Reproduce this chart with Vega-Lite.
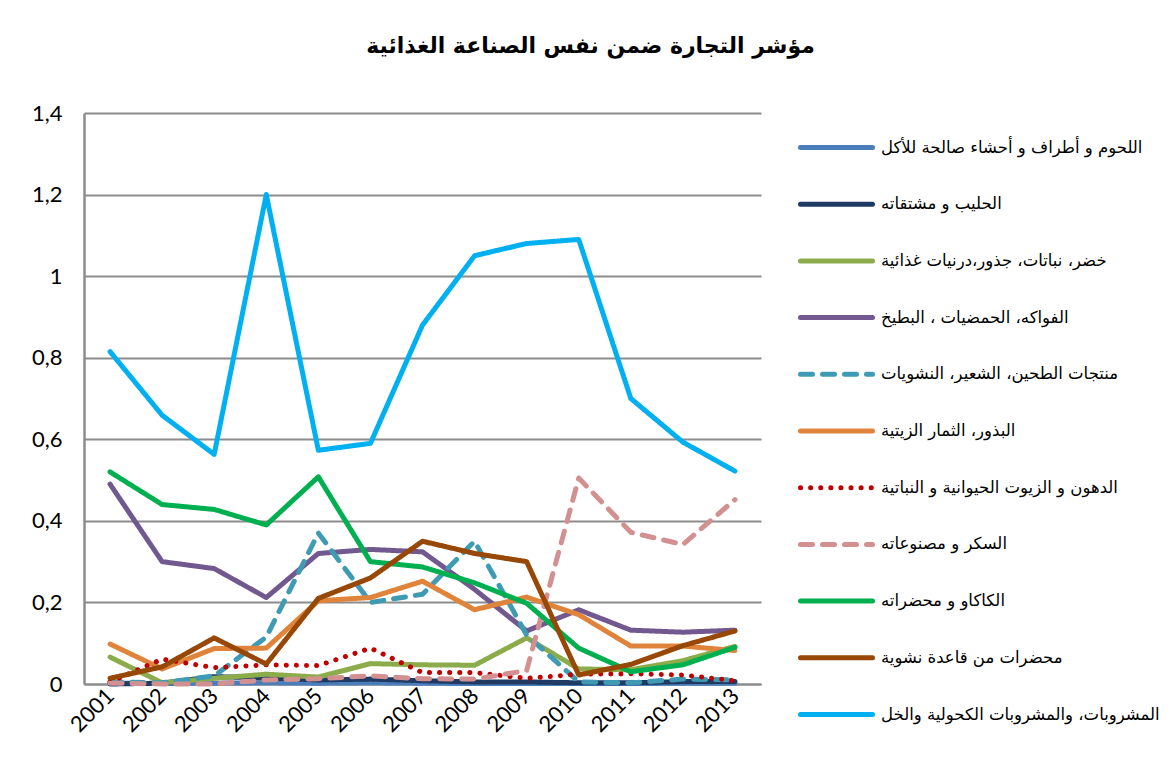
{
  "$schema": "https://vega.github.io/schema/vega-lite/v6.json",
  "autosize": {"type": "none"},
  "width": 677,
  "height": 571,
  "padding": {"left": 84, "top": 113, "right": 415, "bottom": 96},
  "background": "white",
  "config": {
    "view": {"stroke": null},
    "font": "DejaVu Sans"
  },
  "title": {
    "text": "مؤشر التجارة ضمن نفس الصناعة الغذائية",
    "font": "DejaVu Sans",
    "fontSize": 22,
    "fontWeight": "bold",
    "color": "black",
    "anchor": "middle",
    "dx": 168,
    "offset": 44
  },
  "datasets": {
    "rows": [
      {"year": "2001", "cat": "اللحوم و أطراف و أحشاء صالحة للأكل", "value": 0.002},
      {"year": "2002", "cat": "اللحوم و أطراف و أحشاء صالحة للأكل", "value": 0.001},
      {"year": "2003", "cat": "اللحوم و أطراف و أحشاء صالحة للأكل", "value": 0.002},
      {"year": "2004", "cat": "اللحوم و أطراف و أحشاء صالحة للأكل", "value": 0.003},
      {"year": "2005", "cat": "اللحوم و أطراف و أحشاء صالحة للأكل", "value": 0.002},
      {"year": "2006", "cat": "اللحوم و أطراف و أحشاء صالحة للأكل", "value": 0.003},
      {"year": "2007", "cat": "اللحوم و أطراف و أحشاء صالحة للأكل", "value": 0.002},
      {"year": "2008", "cat": "اللحوم و أطراف و أحشاء صالحة للأكل", "value": 0.001},
      {"year": "2009", "cat": "اللحوم و أطراف و أحشاء صالحة للأكل", "value": 0.001},
      {"year": "2010", "cat": "اللحوم و أطراف و أحشاء صالحة للأكل", "value": 0.001},
      {"year": "2011", "cat": "اللحوم و أطراف و أحشاء صالحة للأكل", "value": 0.001},
      {"year": "2012", "cat": "اللحوم و أطراف و أحشاء صالحة للأكل", "value": 0.002},
      {"year": "2013", "cat": "اللحوم و أطراف و أحشاء صالحة للأكل", "value": 0.002},

      {"year": "2001", "cat": "الحليب و مشتقاته", "value": 0.0},
      {"year": "2002", "cat": "الحليب و مشتقاته", "value": 0.002},
      {"year": "2003", "cat": "الحليب و مشتقاته", "value": 0.018},
      {"year": "2004", "cat": "الحليب و مشتقاته", "value": 0.015},
      {"year": "2005", "cat": "الحليب و مشتقاته", "value": 0.01},
      {"year": "2006", "cat": "الحليب و مشتقاته", "value": 0.012},
      {"year": "2007", "cat": "الحليب و مشتقاته", "value": 0.008},
      {"year": "2008", "cat": "الحليب و مشتقاته", "value": 0.005},
      {"year": "2009", "cat": "الحليب و مشتقاته", "value": 0.005},
      {"year": "2010", "cat": "الحليب و مشتقاته", "value": 0.003},
      {"year": "2011", "cat": "الحليب و مشتقاته", "value": 0.003},
      {"year": "2012", "cat": "الحليب و مشتقاته", "value": 0.006},
      {"year": "2013", "cat": "الحليب و مشتقاته", "value": 0.006},

      {"year": "2001", "cat": "خضر، نباتات، جذور،درنيات غذائية", "value": 0.066},
      {"year": "2002", "cat": "خضر، نباتات، جذور،درنيات غذائية", "value": 0.003},
      {"year": "2003", "cat": "خضر، نباتات، جذور،درنيات غذائية", "value": 0.014},
      {"year": "2004", "cat": "خضر، نباتات، جذور،درنيات غذائية", "value": 0.024},
      {"year": "2005", "cat": "خضر، نباتات، جذور،درنيات غذائية", "value": 0.017},
      {"year": "2006", "cat": "خضر، نباتات، جذور،درنيات غذائية", "value": 0.05},
      {"year": "2007", "cat": "خضر، نباتات، جذور،درنيات غذائية", "value": 0.047},
      {"year": "2008", "cat": "خضر، نباتات، جذور،درنيات غذائية", "value": 0.046},
      {"year": "2009", "cat": "خضر، نباتات، جذور،درنيات غذائية", "value": 0.113},
      {"year": "2010", "cat": "خضر، نباتات، جذور،درنيات غذائية", "value": 0.037},
      {"year": "2011", "cat": "خضر، نباتات، جذور،درنيات غذائية", "value": 0.035},
      {"year": "2012", "cat": "خضر، نباتات، جذور،درنيات غذائية", "value": 0.057},
      {"year": "2013", "cat": "خضر، نباتات، جذور،درنيات غذائية", "value": 0.092},

      {"year": "2001", "cat": "الفواكه، الحمضيات ، البطيخ", "value": 0.49},
      {"year": "2002", "cat": "الفواكه، الحمضيات ، البطيخ", "value": 0.30},
      {"year": "2003", "cat": "الفواكه، الحمضيات ، البطيخ", "value": 0.283},
      {"year": "2004", "cat": "الفواكه، الحمضيات ، البطيخ", "value": 0.212},
      {"year": "2005", "cat": "الفواكه، الحمضيات ، البطيخ", "value": 0.32},
      {"year": "2006", "cat": "الفواكه، الحمضيات ، البطيخ", "value": 0.33},
      {"year": "2007", "cat": "الفواكه، الحمضيات ، البطيخ", "value": 0.324},
      {"year": "2008", "cat": "الفواكه، الحمضيات ، البطيخ", "value": 0.232},
      {"year": "2009", "cat": "الفواكه، الحمضيات ، البطيخ", "value": 0.13},
      {"year": "2010", "cat": "الفواكه، الحمضيات ، البطيخ", "value": 0.182},
      {"year": "2011", "cat": "الفواكه، الحمضيات ، البطيخ", "value": 0.132},
      {"year": "2012", "cat": "الفواكه، الحمضيات ، البطيخ", "value": 0.127},
      {"year": "2013", "cat": "الفواكه، الحمضيات ، البطيخ", "value": 0.132},

      {"year": "2001", "cat": "منتجات الطحين، الشعير، النشويات", "value": 0.005},
      {"year": "2002", "cat": "منتجات الطحين، الشعير، النشويات", "value": 0.003},
      {"year": "2003", "cat": "منتجات الطحين، الشعير، النشويات", "value": 0.02},
      {"year": "2004", "cat": "منتجات الطحين، الشعير، النشويات", "value": 0.115},
      {"year": "2005", "cat": "منتجات الطحين، الشعير، النشويات", "value": 0.37},
      {"year": "2006", "cat": "منتجات الطحين، الشعير، النشويات", "value": 0.20},
      {"year": "2007", "cat": "منتجات الطحين، الشعير، النشويات", "value": 0.22},
      {"year": "2008", "cat": "منتجات الطحين، الشعير، النشويات", "value": 0.35},
      {"year": "2009", "cat": "منتجات الطحين، الشعير، النشويات", "value": 0.12},
      {"year": "2010", "cat": "منتجات الطحين، الشعير، النشويات", "value": 0.005},
      {"year": "2011", "cat": "منتجات الطحين، الشعير، النشويات", "value": 0.003},
      {"year": "2012", "cat": "منتجات الطحين، الشعير، النشويات", "value": 0.012},
      {"year": "2013", "cat": "منتجات الطحين، الشعير، النشويات", "value": 0.01},

      {"year": "2001", "cat": "البذور، الثمار الزيتية", "value": 0.098},
      {"year": "2002", "cat": "البذور، الثمار الزيتية", "value": 0.037},
      {"year": "2003", "cat": "البذور، الثمار الزيتية", "value": 0.087},
      {"year": "2004", "cat": "البذور، الثمار الزيتية", "value": 0.088},
      {"year": "2005", "cat": "البذور، الثمار الزيتية", "value": 0.204},
      {"year": "2006", "cat": "البذور، الثمار الزيتية", "value": 0.212},
      {"year": "2007", "cat": "البذور، الثمار الزيتية", "value": 0.252},
      {"year": "2008", "cat": "البذور، الثمار الزيتية", "value": 0.182},
      {"year": "2009", "cat": "البذور، الثمار الزيتية", "value": 0.213},
      {"year": "2010", "cat": "البذور، الثمار الزيتية", "value": 0.17},
      {"year": "2011", "cat": "البذور، الثمار الزيتية", "value": 0.093},
      {"year": "2012", "cat": "البذور، الثمار الزيتية", "value": 0.093},
      {"year": "2013", "cat": "البذور، الثمار الزيتية", "value": 0.082},

      {"year": "2001", "cat": "الدهون و الزيوت الحيوانية و النباتية", "value": 0.005},
      {"year": "2002", "cat": "الدهون و الزيوت الحيوانية و النباتية", "value": 0.061},
      {"year": "2003", "cat": "الدهون و الزيوت الحيوانية و النباتية", "value": 0.04},
      {"year": "2004", "cat": "الدهون و الزيوت الحيوانية و النباتية", "value": 0.047},
      {"year": "2005", "cat": "الدهون و الزيوت الحيوانية و النباتية", "value": 0.045},
      {"year": "2006", "cat": "الدهون و الزيوت الحيوانية و النباتية", "value": 0.088},
      {"year": "2007", "cat": "الدهون و الزيوت الحيوانية و النباتية", "value": 0.028},
      {"year": "2008", "cat": "الدهون و الزيوت الحيوانية و النباتية", "value": 0.028},
      {"year": "2009", "cat": "الدهون و الزيوت الحيوانية و النباتية", "value": 0.014},
      {"year": "2010", "cat": "الدهون و الزيوت الحيوانية و النباتية", "value": 0.024},
      {"year": "2011", "cat": "الدهون و الزيوت الحيوانية و النباتية", "value": 0.025},
      {"year": "2012", "cat": "الدهون و الزيوت الحيوانية و النباتية", "value": 0.022},
      {"year": "2013", "cat": "الدهون و الزيوت الحيوانية و النباتية", "value": 0.008},

      {"year": "2001", "cat": "السكر و مصنوعاته", "value": 0.002},
      {"year": "2002", "cat": "السكر و مصنوعاته", "value": 0.0},
      {"year": "2003", "cat": "السكر و مصنوعاته", "value": 0.0},
      {"year": "2004", "cat": "السكر و مصنوعاته", "value": 0.01},
      {"year": "2005", "cat": "السكر و مصنوعاته", "value": 0.013},
      {"year": "2006", "cat": "السكر و مصنوعاته", "value": 0.02},
      {"year": "2007", "cat": "السكر و مصنوعاته", "value": 0.013},
      {"year": "2008", "cat": "السكر و مصنوعاته", "value": 0.012},
      {"year": "2009", "cat": "السكر و مصنوعاته", "value": 0.033},
      {"year": "2010", "cat": "السكر و مصنوعاته", "value": 0.505},
      {"year": "2011", "cat": "السكر و مصنوعاته", "value": 0.372},
      {"year": "2012", "cat": "السكر و مصنوعاته", "value": 0.342},
      {"year": "2013", "cat": "السكر و مصنوعاته", "value": 0.452},

      {"year": "2001", "cat": "الكاكاو و محضراته", "value": 0.52},
      {"year": "2002", "cat": "الكاكاو و محضراته", "value": 0.44},
      {"year": "2003", "cat": "الكاكاو و محضراته", "value": 0.428},
      {"year": "2004", "cat": "الكاكاو و محضراته", "value": 0.39},
      {"year": "2005", "cat": "الكاكاو و محضراته", "value": 0.508},
      {"year": "2006", "cat": "الكاكاو و محضراته", "value": 0.30},
      {"year": "2007", "cat": "الكاكاو و محضراته", "value": 0.287},
      {"year": "2008", "cat": "الكاكاو و محضراته", "value": 0.248},
      {"year": "2009", "cat": "الكاكاو و محضراته", "value": 0.198},
      {"year": "2010", "cat": "الكاكاو و محضراته", "value": 0.088},
      {"year": "2011", "cat": "الكاكاو و محضراته", "value": 0.03},
      {"year": "2012", "cat": "الكاكاو و محضراته", "value": 0.047},
      {"year": "2013", "cat": "الكاكاو و محضراته", "value": 0.09},

      {"year": "2001", "cat": "محضرات من قاعدة نشوية", "value": 0.014},
      {"year": "2002", "cat": "محضرات من قاعدة نشوية", "value": 0.042},
      {"year": "2003", "cat": "محضرات من قاعدة نشوية", "value": 0.113},
      {"year": "2004", "cat": "محضرات من قاعدة نشوية", "value": 0.049},
      {"year": "2005", "cat": "محضرات من قاعدة نشوية", "value": 0.21},
      {"year": "2006", "cat": "محضرات من قاعدة نشوية", "value": 0.26},
      {"year": "2007", "cat": "محضرات من قاعدة نشوية", "value": 0.35},
      {"year": "2008", "cat": "محضرات من قاعدة نشوية", "value": 0.32},
      {"year": "2009", "cat": "محضرات من قاعدة نشوية", "value": 0.30},
      {"year": "2010", "cat": "محضرات من قاعدة نشوية", "value": 0.022},
      {"year": "2011", "cat": "محضرات من قاعدة نشوية", "value": 0.048},
      {"year": "2012", "cat": "محضرات من قاعدة نشوية", "value": 0.094},
      {"year": "2013", "cat": "محضرات من قاعدة نشوية", "value": 0.13},

      {"year": "2001", "cat": "المشروبات، والمشروبات الكحولية والخل", "value": 0.815},
      {"year": "2002", "cat": "المشروبات، والمشروبات الكحولية والخل", "value": 0.659},
      {"year": "2003", "cat": "المشروبات، والمشروبات الكحولية والخل", "value": 0.563},
      {"year": "2004", "cat": "المشروبات، والمشروبات الكحولية والخل", "value": 1.2},
      {"year": "2005", "cat": "المشروبات، والمشروبات الكحولية والخل", "value": 0.573},
      {"year": "2006", "cat": "المشروبات، والمشروبات الكحولية والخل", "value": 0.59},
      {"year": "2007", "cat": "المشروبات، والمشروبات الكحولية والخل", "value": 0.88},
      {"year": "2008", "cat": "المشروبات، والمشروبات الكحولية والخل", "value": 1.05},
      {"year": "2009", "cat": "المشروبات، والمشروبات الكحولية والخل", "value": 1.08},
      {"year": "2010", "cat": "المشروبات، والمشروبات الكحولية والخل", "value": 1.09},
      {"year": "2011", "cat": "المشروبات، والمشروبات الكحولية والخل", "value": 0.70},
      {"year": "2012", "cat": "المشروبات، والمشروبات الكحولية والخل", "value": 0.593},
      {"year": "2013", "cat": "المشروبات، والمشروبات الكحولية والخل", "value": 0.522}
    ]
  },
  "data": {"name": "rows"},
  "mark": {"type": "line", "strokeWidth": 5, "strokeCap": "round", "strokeJoin": "round"},
  "encoding": {
    "x": {
      "field": "year",
      "type": "ordinal",
      "scale": {"type": "point", "padding": 0.5},
      "axis": {
        "title": null,
        "labelAngle": -45,
        "labelAlign": "right",
        "labelBaseline": "middle",
        "labelFont": "Lato",
        "labelFontSize": 22,
        "labelColor": "black",
        "labelPadding": 8,
        "labelOffset": 0,
        "ticks": false,
        "domainColor": "#8c8c8c",
        "domainWidth": 2,
        "grid": false
      }
    },
    "y": {
      "field": "value",
      "type": "quantitative",
      "scale": {"domain": [0, 1.4], "nice": false},
      "axis": {
        "title": null,
        "values": [0, 0.2, 0.4, 0.6, 0.8, 1, 1.2, 1.4],
        "labelExpr": "replace(format(datum.value, '.1~f'), '.', ',')",
        "labelFont": "Lato",
        "labelFontSize": 22,
        "labelColor": "black",
        "labelPadding": 22,
        "ticks": false,
        "domainColor": "#8c8c8c",
        "domainWidth": 2.5,
        "grid": true,
        "gridColor": "#8c8c8c",
        "gridWidth": 2
      }
    },
    "color": {
      "field": "cat",
      "type": "nominal",
      "scale": {
        "domain": [
          "اللحوم و أطراف و أحشاء صالحة للأكل",
          "الحليب و مشتقاته",
          "خضر، نباتات، جذور،درنيات غذائية",
          "الفواكه، الحمضيات ، البطيخ",
          "منتجات الطحين، الشعير، النشويات",
          "البذور، الثمار الزيتية",
          "الدهون و الزيوت الحيوانية و النباتية",
          "السكر و مصنوعاته",
          "الكاكاو و محضراته",
          "محضرات من قاعدة نشوية",
          "المشروبات، والمشروبات الكحولية والخل"
        ],
        "range": ["#4a7ebb", "#1f3a63", "#8cac4c", "#71588f", "#3e9bb3", "#e0843b", "#c00000", "#d39090", "#00b050", "#974706", "#00b0f0"]
      },
      "legend": {
        "title": null,
        "orient": "none",
        "legendX": 714,
        "legendY": -4,
        "symbolType": "stroke",
        "symbolSize": 5184,
        "symbolStrokeWidth": 5,
        "labelFont": "DejaVu Sans",
        "labelFontSize": 16.5,
        "labelColor": "black",
        "labelLimit": 400,
        "labelOffset": 6,
        "rowPadding": 7.7,
        "encode": {
          "symbols": {"update": {"strokeCap": {"value": "round"}}}
        }
      }
    },
    "strokeDash": {
      "field": "cat",
      "type": "nominal",
      "scale": {
        "domain": [
          "اللحوم و أطراف و أحشاء صالحة للأكل",
          "الحليب و مشتقاته",
          "خضر، نباتات، جذور،درنيات غذائية",
          "الفواكه، الحمضيات ، البطيخ",
          "منتجات الطحين، الشعير، النشويات",
          "البذور، الثمار الزيتية",
          "الدهون و الزيوت الحيوانية و النباتية",
          "السكر و مصنوعاته",
          "الكاكاو و محضراته",
          "محضرات من قاعدة نشوية",
          "المشروبات، والمشروبات الكحولية والخل"
        ],
        "range": [[1, 0], [1, 0], [1, 0], [1, 0], [12, 10], [1, 0], [0.1, 10], [12, 10], [1, 0], [1, 0], [1, 0]]
      },
      "legend": null
    }
  }
}
